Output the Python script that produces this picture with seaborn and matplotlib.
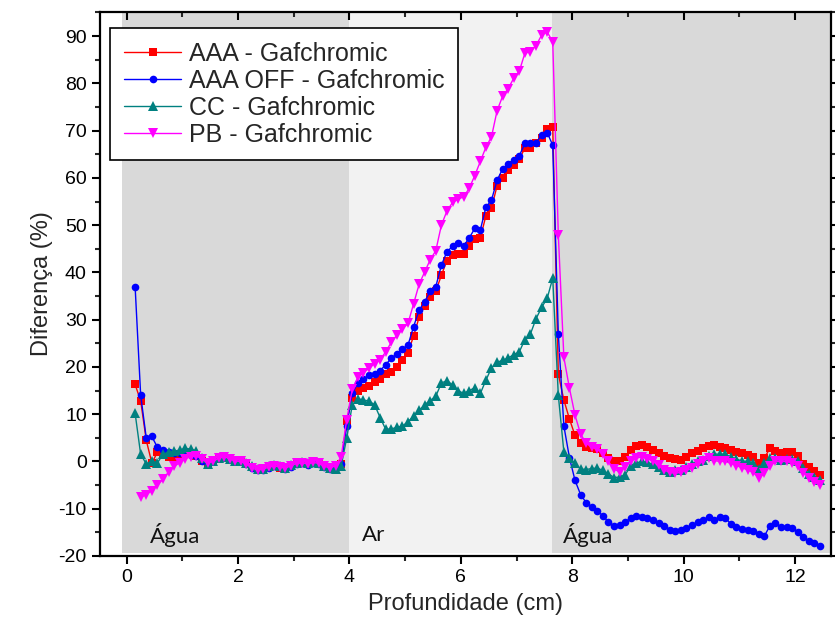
import numpy as np
import pandas as pd
import matplotlib
matplotlib.use("Agg")
import matplotlib.pyplot as plt
from matplotlib.ticker import MultipleLocator
import seaborn as sns

# ---------------- data ----------------
depth = [0.15, 0.25, 0.35, 0.45, 0.55, 0.65, 0.75, 0.85, 0.95, 1.05, 1.15, 1.25, 1.35, 1.45, 1.55, 1.65, 1.75, 1.85, 1.95,
         2.05, 2.15, 2.25, 2.35, 2.45, 2.55, 2.65, 2.75, 2.85, 2.95, 3.05, 3.15, 3.25, 3.35, 3.45, 3.55, 3.65, 3.75, 3.85,
         3.95, 4.05, 4.15, 4.25, 4.35, 4.45, 4.55, 4.65, 4.75, 4.85, 4.95, 5.05, 5.15, 5.25, 5.35, 5.45, 5.55, 5.65, 5.75,
         5.85, 5.95, 6.05, 6.15, 6.25, 6.35, 6.45, 6.55, 6.65, 6.75, 6.85, 6.95, 7.05, 7.15, 7.25, 7.35, 7.45, 7.55, 7.65,
         7.75, 7.85, 7.95, 8.05, 8.15, 8.25, 8.35, 8.45, 8.55, 8.65, 8.75, 8.85, 8.95, 9.05, 9.15, 9.25, 9.35, 9.45, 9.55,
         9.65, 9.75, 9.85, 9.95, 10.05, 10.15, 10.25, 10.35, 10.45, 10.55, 10.65, 10.75, 10.85, 10.95, 11.05, 11.15, 11.25,
         11.35, 11.45, 11.55, 11.65, 11.75, 11.85, 11.95, 12.05, 12.15, 12.25, 12.35, 12.45]

aaa = [16.3, 12.8, 4.5, -0.3, 1.9, 1.5, 1.0, 0.7, 1.2, 1.8, 1.5, 1.2, 0.2, -0.6, 0.0, 0.8, 1.0, 0.6, 0.2,
       0.0, -0.4, -1.2, -1.8, -1.7, -1.2, -0.9, -1.3, -1.5, -1.0, -0.5, -0.3, -0.6, -0.3, -0.6, -1.1, -1.5, -1.0, -0.5,
       8.5, 13.5, 15.0, 15.5, 16.0, 16.8, 17.5, 18.5, 19.0, 20.0, 21.5, 23.0, 26.5, 30.5, 33.0, 34.8, 36.0, 39.4, 42.5,
       43.7, 44.0, 43.8, 45.5, 47.0, 47.3, 52.0, 53.6, 58.3, 60.0, 61.7, 62.8, 64.0, 66.3, 66.3, 67.3, 68.4, 70.3, 70.8,
       18.5, 13.0, 9.0, 5.5, 4.0, 3.1, 2.9, 2.6, 1.8, 0.8, 0.0, 0.2, 1.0, 2.4, 3.2, 3.5, 3.0, 2.4, 1.8,
       1.2, 0.7, 0.6, 0.4, 1.0, 1.8, 2.3, 2.8, 3.3, 3.5, 3.1, 2.8, 2.4, 2.0, 1.7, 1.3, 1.0,
       -0.4, 0.7, 2.8, 2.2, 1.7, 2.1, 2.0, 1.2, -0.5, -1.2, -2.0, -2.8]

aaa_off = [37.0, 14.0, 5.0, 5.3, 3.0, 2.5, 2.0, 1.8, 1.8, 1.6, 1.4, 1.2, 0.2, -0.6, 0.0, 0.8, 1.0, 0.6, 0.2,
           0.1, -0.5, -1.3, -1.9, -1.8, -1.3, -1.0, -1.2, -1.6, -1.1, -0.6, -0.4, -0.7, -0.4, -0.5, -1.2, -1.6, -1.1, -0.6,
           7.5, 14.5, 16.5, 17.5, 18.2, 18.6, 19.2, 20.5, 21.8, 22.8, 23.8, 24.6, 28.5, 32.0, 33.8, 36.0, 37.0, 41.5, 44.4,
           45.5, 46.2, 45.6, 47.3, 49.3, 49.0, 53.8, 55.3, 59.5, 61.9, 62.9, 63.8, 64.7, 67.3, 67.3, 67.4, 69.1, 69.6, 66.9,
           27.0, 7.5, 0.8, -4.0, -7.0, -8.7, -9.6, -10.4, -11.5, -12.8, -13.6, -13.5, -12.8, -12.0, -11.6, -11.7, -12.0, -12.4, -13.0,
           -13.6, -14.4, -14.8, -14.5, -14.1, -13.5, -12.9, -12.4, -11.8, -12.3, -11.8, -12.0, -13.2, -13.8, -14.2, -14.4, -14.8,
           -15.4, -15.8, -13.6, -13.1, -13.8, -13.8, -14.0, -15.0, -16.0, -16.8, -17.3, -17.8]

cc = [10.2, 1.5, -0.5, 0.0, -0.3, 1.5, 2.0, 2.2, 2.4, 2.8, 2.6, 2.3, 0.8, -0.5, 0.0, 0.8, 1.0, 0.6, 0.2,
      0.2, -0.3, -1.0, -1.6, -1.5, -1.0, -0.7, -1.0, -1.3, -0.8, -0.3, -0.2, -0.4, -0.2, -0.4, -0.9, -1.3, -1.5, -1.0,
      5.0, 12.0, 13.3, 13.0, 12.8, 12.0, 9.3, 6.8, 6.9, 7.2, 7.5, 8.4, 9.6, 10.8, 12.0, 12.9, 13.8, 16.6, 17.1,
      16.2, 15.0, 14.4, 15.0, 15.6, 14.4, 17.2, 19.8, 21.0, 21.4, 21.9, 22.6, 23.2, 25.8, 27.0, 30.2, 32.6, 34.5, 38.8,
      14.0, 2.0, 0.8, -0.4, -1.6, -1.7, -1.5, -1.4, -1.9, -2.6, -3.4, -3.3, -2.8, -1.0, -0.3, 0.0, -0.2, -0.6, -1.2,
      -1.8, -2.2, -1.9, -1.8, -1.2, -0.5, 0.0, 0.4, 1.2, 1.6, 1.5, 1.6, 0.9, 0.5, 0.1, 0.0, -0.3,
      -1.5, -0.4, 0.8, 0.7, 0.3, 0.6, 0.6, 0.2, -1.3, -2.6, -3.3, -4.0]

pb = [None, -7.6, -7.0, -6.2, -5.0, -3.8, -2.2, -1.0, -0.3, 0.6, 1.0, 1.2, 0.5, -0.3, 0.0, 0.7, 1.0, 0.6, 0.1,
      0.0, -0.6, -1.4, -1.8, -1.6, -1.2, -0.9, -1.2, -1.4, -0.9, -0.4, -0.3, -0.5, -0.2, -0.4, -1.0, -1.4, -0.9, 1.0,
      8.8, 15.3, 17.8, 18.8, 19.7, 20.7, 21.5, 23.2, 25.2, 26.7, 28.0, 29.2, 33.3, 37.5, 40.1, 42.7, 44.6, 50.0, 53.0,
      54.8, 55.5, 56.0, 57.8, 60.5, 63.5, 66.5, 68.7, 74.2, 77.3, 78.9, 81.1, 82.6, 86.4, 86.7, 88.0, 90.2, 90.9, 88.8,
      48.0, 22.0, 15.5, 9.8, 5.8, 3.9, 3.0, 2.6, 1.5, 0.0, -1.6, -2.2, -1.2, 0.0, 0.7, 1.0, 0.6, 0.0, -0.8,
      -1.8, -2.3, -2.5, -2.3, -1.9, -1.4, -0.6, 0.0, 0.7, 0.2, 0.0, 0.0, -0.4, -0.9, -1.3, -1.8, -2.3,
      -3.5, -2.5, -1.0, 0.0, 0.0, 0.0, -0.3, -1.0, -2.4, -3.4, -4.4, -5.0]

series_names = ["AAA - Gafchromic", "AAA OFF - Gafchromic", "CC - Gafchromic", "PB - Gafchromic"]
series_values = [aaa, aaa_off, cc, pb]

regions = ["Água", "Ar", "Água"]
region_bounds = [(-0.09, 4.0), (4.0, 7.63), (7.63, 12.66)]
region_label_x = [0.41, 4.22, 7.83]

x_ticks = [0, 2, 4, 6, 8, 10, 12]
y_ticks = [-20, -10, 0, 10, 20, 30, 40, 50, 60, 70, 80, 90]

# ---------------- style ----------------
sns.set_style("ticks")
plt.rcParams["font.family"] = ["Liberation Sans", "DejaVu Sans"]
plt.rcParams["axes.unicode_minus"] = False

colors = ["#FF0000", "#0000FF", "#008080", "#FF00FF"]
markers = ["s", "o", "^", "v"]
msizes = [5.5, 5.5, 6.5, 6.5]
region_colors = ["#D9D9D9", "#F2F2F2", "#D9D9D9"]

fig = plt.figure(figsize=(8.35, 6.39), dpi=100)
ax = fig.add_axes([0.1198, 0.1299, 0.8756, 0.8513])
ax.set_facecolor("white")

ax.set_xlim(-0.48, 12.65)
ax.set_ylim(-20, 95.1)

for (x0, x1), c in zip(region_bounds, region_colors):
    ax.axvspan(x0, x1, ymin=0.006, ymax=1.0, color=c, lw=0, zorder=0)

rows = []
for name, vals in zip(series_names, series_values):
    for xv, yv in zip(depth, vals):
        if yv is not None:
            rows.append({"Profundidade": xv, "Diferenca": yv, "serie": name})
df = pd.DataFrame(rows)

for name, c, m, ms in zip(series_names, colors, markers, msizes):
    sub = df[df["serie"] == name]
    sns.lineplot(data=sub, x="Profundidade", y="Diferenca", ax=ax, color=c,
                 marker=m, markersize=ms, markeredgewidth=0, linewidth=1.0,
                 label=name, sort=False, zorder=3)

for lab, lx in zip(regions, region_label_x):
    ax.text(lx, -15.6, lab, fontsize=16, va="center", ha="left",
            family=["Lato", "DejaVu Sans"], color="#111111", zorder=4)

ax.set_xticks(x_ticks)
ax.set_yticks(y_ticks)
ax.xaxis.set_minor_locator(MultipleLocator(1))
ax.yaxis.set_minor_locator(MultipleLocator(5))
ax.tick_params(axis="both", which="major", direction="out", length=6, width=1.5,
               labelsize=14, top=True, right=True, colors="black")
ax.tick_params(axis="both", which="minor", direction="out", length=3.5, width=1.5,
               top=True, right=True)
for t in ax.xaxis.get_major_ticks() + ax.xaxis.get_minor_ticks():
    t.tick2line.set_marker(3)  # top ticks pointing into the plot
for s in ax.spines.values():
    s.set_linewidth(1.6)
    s.set_color("black")
    s.set_zorder(5)

ax.set_xlabel("Profundidade (cm)", fontsize=17, labelpad=5)
ax.set_ylabel("Diferença (%)", fontsize=17, labelpad=4)

leg = ax.legend(loc="upper left", bbox_to_anchor=(0.0137, 0.971), borderaxespad=0,
                frameon=True, fancybox=False, framealpha=1, edgecolor="black",
                handlelength=2.3, handletextpad=0.3, borderpad=0.55, labelspacing=0.12,
                prop={"family": ["Liberation Sans", "DejaVu Sans"], "size": 18})
leg.get_frame().set_linewidth(1.2)
leg.set_zorder(6)

fig.savefig("out.png", dpi=100)
